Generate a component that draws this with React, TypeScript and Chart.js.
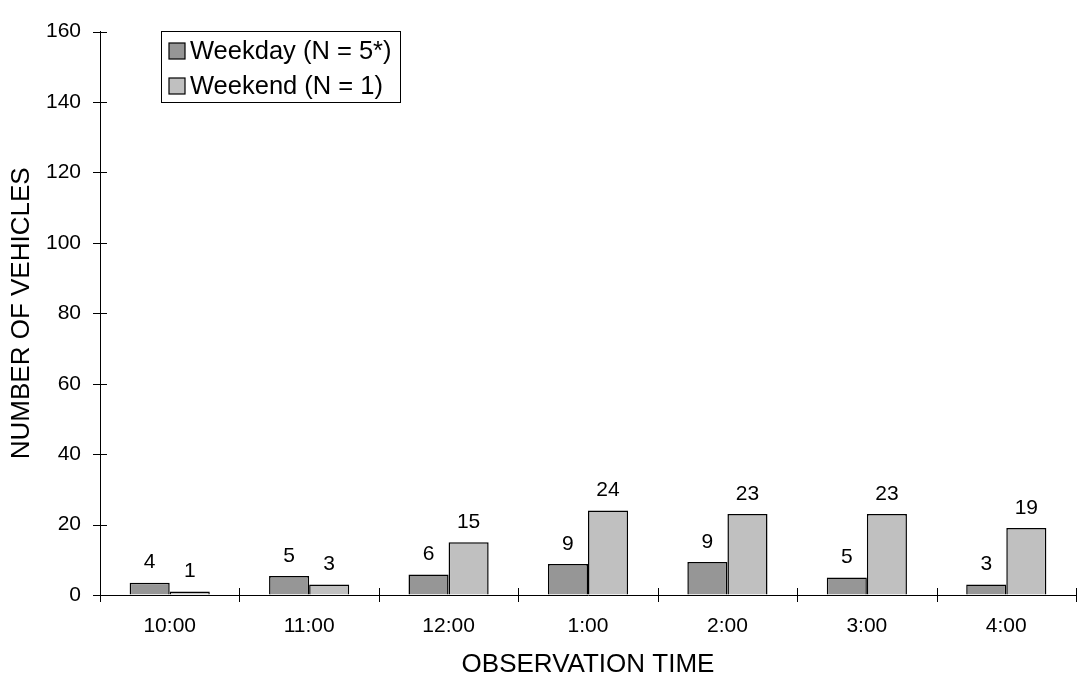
import React, { useEffect, useRef } from "react";
import { Chart, registerables } from "chart.js";

Chart.register(...registerables);

const categories = ["10:00", "11:00", "12:00", "1:00", "2:00", "3:00", "4:00"];
const weekdayValues = [3.5, 5.4, 5.8, 8.8, 9.4, 5.0, 3.0];
const weekendValues = [1, 3, 15, 24, 23, 23, 19];
const weekdayLabels = ["4", "5", "6", "9", "9", "5", "3"];
const weekendLabels = ["1", "3", "15", "24", "23", "23", "19"];
const seriesNames = ["Weekday (N = 5*)", "Weekend (N = 1)"];
const yMin = 0;
const yMax = 160;
const yStep = 20;
const xTitle = "OBSERVATION TIME";
const yTitle = "NUMBER OF VEHICLES";

const FONT = "'Liberation Sans', Arial, Helvetica, sans-serif";
const WEEKDAY_COLOR = "#969696";
const WEEKEND_COLOR = "#c0c0c0";

const crossTicks = {
  id: "crossTicks",
  afterDraw(chart: any) {
    const { ctx, chartArea, scales } = chart;
    const y = scales.y;
    const x = scales.x;
    ctx.save();
    ctx.strokeStyle = "#000";
    ctx.lineWidth = 1;
    ctx.beginPath();
    y.ticks.forEach((_t: any, i: number) => {
      const py = Math.round(y.getPixelForTick(i)) + 0.5;
      ctx.moveTo(chartArea.left - 7, py);
      ctx.lineTo(chartArea.left + 7, py);
    });
    const n = x.ticks.length;
    for (let i = 0; i <= n; i++) {
      const px = Math.round(chartArea.left + (i * (chartArea.right - chartArea.left)) / n) + 0.5;
      ctx.moveTo(px, chartArea.bottom - 7);
      ctx.lineTo(px, chartArea.bottom + 7);
    }
    ctx.stroke();
    ctx.restore();
  },
};

const barLabels = {
  id: "barLabels",
  afterDatasetsDraw(chart: any) {
    const { ctx } = chart;
    const labelSets = [weekdayLabels, weekendLabels];
    ctx.save();
    ctx.font = `21px ${FONT}`;
    ctx.fillStyle = "#000";
    ctx.textAlign = "center";
    ctx.textBaseline = "middle";
    chart.data.datasets.forEach((_ds: any, di: number) => {
      const meta = chart.getDatasetMeta(di);
      meta.data.forEach((el: any, i: number) => {
        ctx.fillText(labelSets[di][i], el.x, el.y - 20);
      });
    });
    ctx.restore();
  },
};

const boxLegend = {
  id: "boxLegend",
  afterDraw(chart: any) {
    const { ctx } = chart;
    const left = 161.5;
    const top = 31.5;
    const w = 239;
    const h = 71;
    ctx.save();
    ctx.fillStyle = "#fff";
    ctx.fillRect(left, top, w, h);
    ctx.strokeStyle = "#000";
    ctx.lineWidth = 1;
    ctx.strokeRect(left, top, w, h);
    ctx.font = `25.5px ${FONT}`;
    ctx.textBaseline = "middle";
    ctx.textAlign = "left";
    chart.data.datasets.forEach((ds: any, i: number) => {
      const cy = 51 + i * 35;
      ctx.fillStyle = ds.backgroundColor;
      ctx.fillRect(169, cy - 8, 16, 16);
      ctx.strokeStyle = "#000";
      ctx.lineWidth = 1.2;
      ctx.strokeRect(169, cy - 8, 16, 16);
      ctx.fillStyle = "#000";
      ctx.fillText(ds.label, 190, cy + 1);
    });
    ctx.restore();
  },
};

export default function App() {
  const ref = useRef<HTMLCanvasElement | null>(null);

  useEffect(() => {
    if (!ref.current) return;
    const chart = new Chart(ref.current, {
      type: "bar",
      data: {
        labels: categories,
        datasets: [
          {
            label: seriesNames[0],
            data: weekdayValues,
            backgroundColor: WEEKDAY_COLOR,
            borderColor: "#000",
            borderWidth: 1.5,
            categoryPercentage: 0.575,
            barPercentage: 1,
          },
          {
            label: seriesNames[1],
            data: weekendValues,
            backgroundColor: WEEKEND_COLOR,
            borderColor: "#000",
            borderWidth: 1.5,
            categoryPercentage: 0.575,
            barPercentage: 1,
          },
        ],
      },
      options: {
        animation: false,
        responsive: false,
        layout: { padding: { top: 19, right: 2, left: 0, bottom: 0 } },
        plugins: {
          legend: { display: false },
          tooltip: { enabled: false },
        },
        scales: {
          x: {
            grid: { display: true, drawOnChartArea: false, drawTicks: false },
            border: { display: true, color: "#000", width: 1 },
            ticks: {
              color: "#000",
              font: { family: FONT, size: 21 },
              padding: 19,
              maxRotation: 0,
            },
            title: {
              display: true,
              text: xTitle,
              color: "#000",
              font: { family: FONT, size: 26, lineHeight: 1 },
              padding: { top: 0, bottom: 1 },
            },
            afterFit(scale: any) {
              scale.height = 84;
            },
          },
          y: {
            min: yMin,
            max: yMax,
            grid: { display: true, drawOnChartArea: false, drawTicks: false },
            border: { display: true, color: "#000", width: 1 },
            ticks: {
              stepSize: yStep,
              color: "#000",
              font: { family: FONT, size: 21 },
              padding: 19,
            },
            title: {
              display: true,
              text: yTitle,
              color: "#000",
              font: { family: FONT, size: 26, lineHeight: 1 },
              padding: { top: 9, bottom: 0 },
            },
            afterFit(scale: any) {
              scale.width = 100;
            },
          },
        },
      },
      plugins: [crossTicks, barLabels, boxLegend],
    });
    return () => chart.destroy();
  }, []);

  return (
    <div style={{ position: "fixed", left: 0, top: 0, width: 1078, height: 679, background: "#fff" }}>
      <canvas ref={ref} width={1078} height={679} />
    </div>
  );
}
